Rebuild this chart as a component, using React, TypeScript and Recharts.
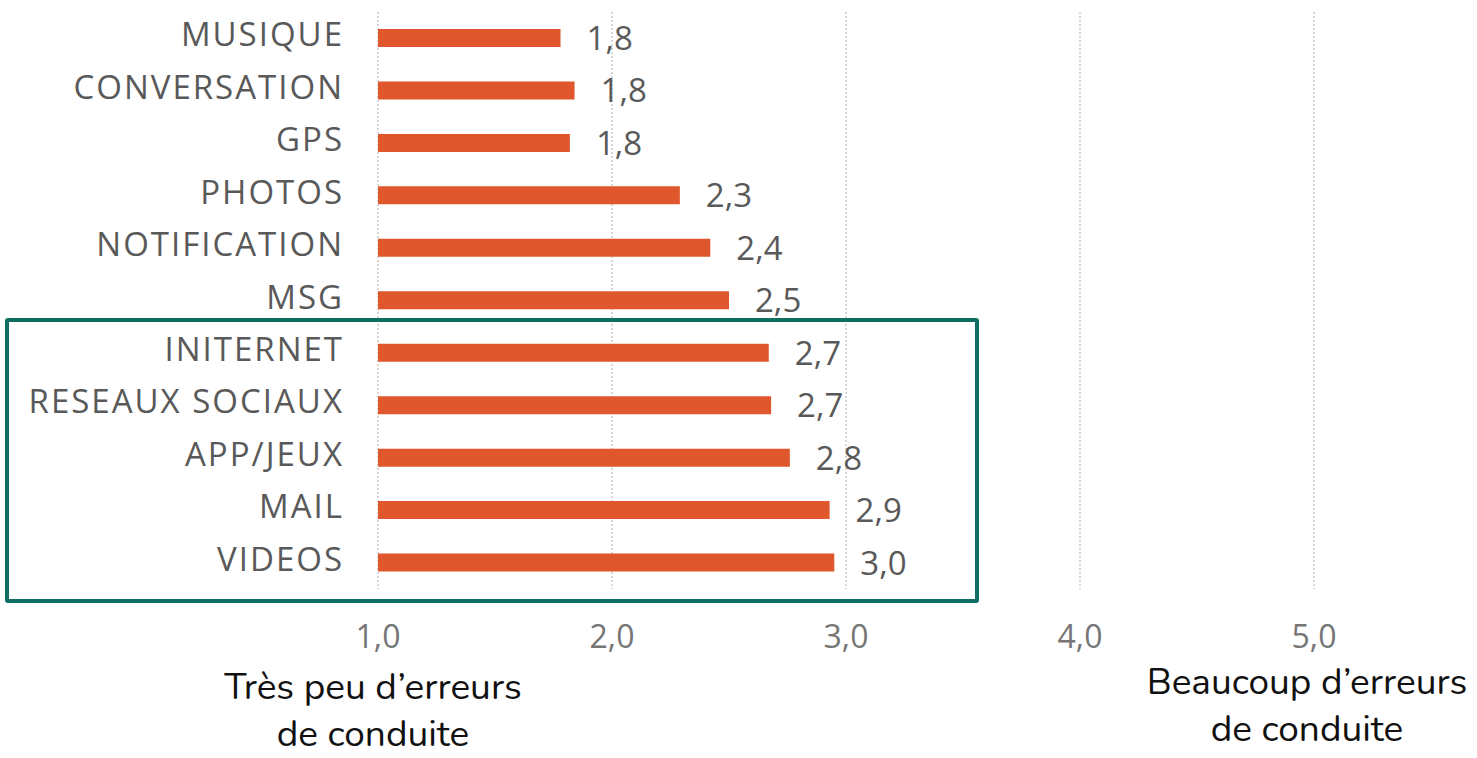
import React from 'react';
import { BarChart, Bar, XAxis, YAxis, CartesianGrid, LabelList } from 'recharts';

const categories = [
  'MUSIQUE',
  'CONVERSATION',
  'GPS',
  'PHOTOS',
  'NOTIFICATION',
  'MSG',
  'INITERNET',
  'RESEAUX SOCIAUX',
  'APP/JEUX',
  'MAIL',
  'VIDEOS',
];
const scores = [1.78, 1.84, 1.82, 2.29, 2.42, 2.5, 2.67, 2.68, 2.76, 2.93, 2.95];
const scoreLabels = ['1,8', '1,8', '1,8', '2,3', '2,4', '2,5', '2,7', '2,7', '2,8', '2,9', '3,0'];
const xTicks = [1, 2, 3, 4, 5];

const data = categories.map((name, i) => ({ name, score: scores[i], label: scoreLabels[i] }));

const BAR = '#E0572E';
const TEXT = '#595959';
const TICK = '#767676';
const GRID = '#c9c9c9';
const BOX = '#0E6E5F';
const FONT = '"Open Sans", Lato, sans-serif';

function CategoryTick(props: any) {
  const { x, y, payload } = props;
  return (
    <text
      x={x - 34}
      y={y}
      dy={8}
      textAnchor="end"
      fill={TEXT}
      fontSize={33}
      letterSpacing={2}
      fontFamily={FONT}
    >
      {payload.value}
    </text>
  );
}

function ValueTick(props: any) {
  const { x, y, payload } = props;
  return (
    <text x={x} y={y} dy={59} textAnchor="middle" fill={TICK} fontSize={32} fontFamily={FONT}>
      {payload.value.toFixed(1).replace('.', ',')}
    </text>
  );
}

function ScoreLabel(props: any) {
  const { x, y, width, height, index } = props;
  return (
    <text
      x={x + width + 26}
      y={y + height / 2}
      dy={12}
      fill={TEXT}
      fontSize={33}
      fontFamily={FONT}
    >
      {scoreLabels[index]}
    </text>
  );
}

const caption: React.CSSProperties = {
  position: 'absolute',
  fontFamily: 'Nunito, Lato, "Noto Sans", sans-serif',
  fontSize: 37,
  lineHeight: '30px',
  color: '#111',
  textAlign: 'center',
  width: 400,
  whiteSpace: 'nowrap',
};

export default function App() {
  return (
    <div style={{ position: 'absolute', left: 0, top: 0, width: 1477, height: 758, background: '#fff' }}>
      <BarChart
        width={1477}
        height={758}
        data={data}
        layout="vertical"
        margin={{ top: 12, right: 163, bottom: 109, left: 0 }}
        barCategoryGap={0}
      >
        <CartesianGrid horizontal={false} vertical stroke={GRID} strokeDasharray="2 2" strokeWidth={1.5} />
        <XAxis
          type="number"
          domain={[1, 5]}
          ticks={xTicks}
          height={60}
          axisLine={false}
          tickLine={false}
          tickSize={0}
          tickMargin={0}
          tick={<ValueTick />}
          interval={0}
        />
        <YAxis
          type="category"
          dataKey="name"
          width={378}
          axisLine={false}
          tickLine={false}
          tickSize={0}
          tickMargin={0}
          tick={<CategoryTick />}
          interval={0}
        />
        <Bar dataKey="score" fill={BAR} barSize={18} isAnimationActive={false}>
          <LabelList dataKey="label" content={<ScoreLabel />} />
        </Bar>
      </BarChart>
      <div
        style={{
          position: 'absolute',
          left: 5,
          top: 318,
          width: 974,
          height: 285,
          border: `4px solid ${BOX}`,
          borderRadius: 3,
          boxSizing: 'border-box',
        }}
      />
      <div style={{ ...caption, left: 173, top: 672 }}>Très peu d’erreurs</div>
      <div style={{ ...caption, left: 173, top: 719 }}>de conduite</div>
      <div style={{ ...caption, left: 1107, top: 667 }}>Beaucoup d’erreurs</div>
      <div style={{ ...caption, left: 1107, top: 714 }}>de conduite</div>
    </div>
  );
}
